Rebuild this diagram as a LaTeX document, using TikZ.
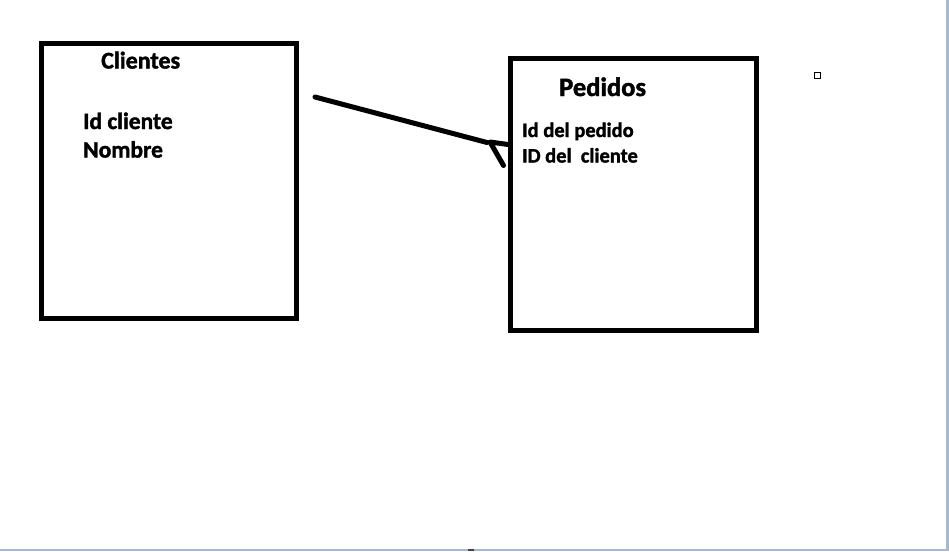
\documentclass[tikz,border=0pt]{standalone}
\usepackage{fontspec}
\setmainfont{Carlito}[BoldFont={Carlito Bold},BoldFeatures={FakeBold=1.6}]
\begin{document}
\begin{tikzpicture}[x=1pt,y=-1pt,
  entity/.style={draw=black,line width=5pt,fill=none,inner sep=0pt,outer sep=0pt,anchor=north west},
  lbl/.style={anchor=base west,inner sep=0pt,text=black},
  conn/.style={draw=black,line width=5pt,line cap=round,line join=round}]
\useasboundingbox[fill=white] (0,0) rectangle (949,551);
% window frame edges
\fill[fill={rgb,255:red,168;green,184;blue,204}] (946,0) rectangle (949,551);
\fill[fill={rgb,255:red,168;green,184;blue,204}] (0,549) rectangle (949,551);
\fill[black!75] (468,549) rectangle (474,551);
% boxes
\node[entity,minimum width=255pt,minimum height=275pt] (cli) at (41.5,43.5) {};
\node[entity,minimum width=246pt,minimum height=272pt] (ped) at (510.5,58.5) {};
% texts
\node[lbl,font=\bfseries\fontsize{24}{24}\selectfont] (tcli) at (101,68.5) {Clientes};
\node[lbl,font=\bfseries\fontsize{23.5}{24}\selectfont] (tid) at (83,129) {Id cliente};
\node[lbl,font=\bfseries\fontsize{23.5}{24}\selectfont] (tnom) at (83,157.5) {Nombre};
\node[lbl,font=\bfseries\fontsize{26.5}{27}\selectfont] (tped) at (559,96) {Pedidos};
\node[lbl,font=\bfseries\fontsize{20.5}{21}\selectfont] (tidp) at (522,137) {Id del pedido};
\node[lbl,font=\bfseries\fontsize{20.5}{21}\selectfont] (tidc) at (522,162.5) {ID del\ \ cliente};
% small square
\node[draw=black,line width=1pt,minimum size=6pt,inner sep=0pt] (sq) at (817,75.5) {};
% connector
\coordinate (start) at (315,97);
\coordinate (tip) at (490,142);
\coordinate (h1) at (508,144.5);
\coordinate (h2) at (503.5,165.5);
\draw[conn] (start) -- (487,142.5);
\draw[conn] (h1) -- (tip) -- (h2);
\end{tikzpicture}
\end{document}
